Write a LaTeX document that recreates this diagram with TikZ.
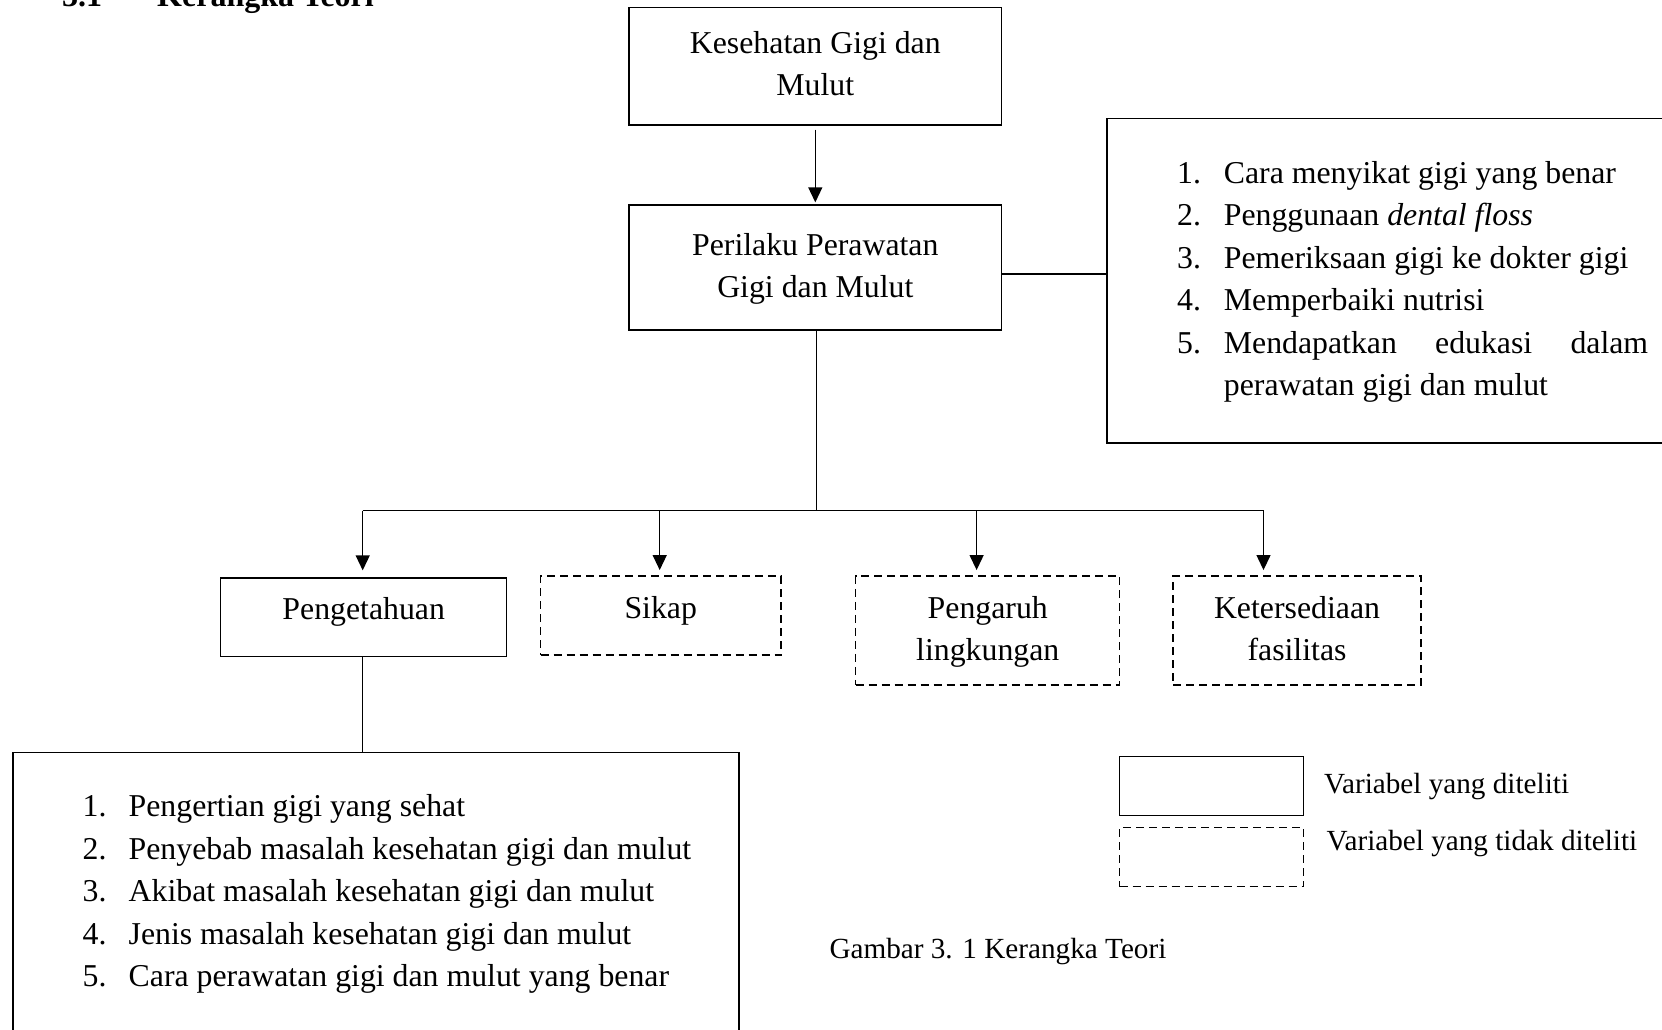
\documentclass[tikz,border=0pt]{standalone}
\usepackage{fontspec}
\setmainfont{Liberation Serif}
\usetikzlibrary{arrows.meta}
\newcommand{\fsmain}{\fontsize{31.8pt}{42.4pt}\selectfont}
\newcommand{\fssmall}{\fontsize{29.2pt}{38pt}\selectfont}
\newcommand{\fstitle}{\fontsize{32pt}{40pt}\selectfont\bfseries}
\tikzset{
  boxsolid/.style={draw, line width=1.3pt, inner sep=0pt, rectangle},
  boxdash/.style={draw, line width=1.3pt, inner sep=0pt, rectangle, dash pattern=on 8pt off 5pt},
  conn/.style={line width=1.3pt},
  arr/.style={line width=1.3pt, -{Triangle[width=14pt,length=15pt]}},
  txt/.style={font=\fsmain, inner sep=0pt, align=center, anchor=north},
  lbl/.style={font=\fssmall, inner sep=0pt, anchor=base west},
}
\begin{document}
\begin{tikzpicture}[x=1pt,y=-1pt]
\useasboundingbox (0,0) rectangle (1662,1029);
\clip (0,0) rectangle (1662,1029);
\fill[white] (0,0) rectangle (1662,1029);

% title (cut off at top)
\node[font=\fstitle, inner sep=0pt, anchor=base west] (tnum) at (62,6.5) {3.1};
\node[font=\fstitle, inner sep=0pt, anchor=base west] (ttl) at (157,6.5) {Kerangka Teori};

% boxes
\node[boxsolid, minimum width=372.7pt, minimum height=117.7pt] (b1) at (815.3,66.2) {};
\node[boxsolid, minimum width=372.7pt, minimum height=125pt] (b2) at (815.3,267.5) {};
\node[boxsolid, minimum width=580pt, minimum height=324.5pt] (rb) at (1397,280.7) {};
\node[boxsolid, minimum width=286pt, minimum height=78.7pt] (pg) at (363.7,617.35) {};
\node[boxdash, minimum width=240.5pt, minimum height=79pt] (sk) at (660.75,615.5) {};
\node[boxdash, minimum width=264.1pt, minimum height=109pt] (pl) at (987.75,630.5) {};
\node[boxdash, minimum width=248pt, minimum height=109pt] (kf) at (1297,630.5) {};
\node[boxsolid, minimum width=726pt, minimum height=300pt] (bb) at (376,902.7) {};
\node[boxsolid, minimum width=183.9pt, minimum height=59pt] (lg1) at (1211.65,786.2) {};
\node[boxdash, minimum width=183.9pt, minimum height=59.4pt] (lg2) at (1211.65,857) {};

% box texts (anchor north = first baseline - 0.7*42.4)
\node[txt] (b1t) at (815.3,23.6) {\strut Kesehatan Gigi dan\\Mulut\strut};
\node[txt] (b2t) at (815.3,225.3) {\strut Perilaku Perawatan\\Gigi dan Mulut\strut};
\node[txt] (pgt) at (363.7,589.3) {\strut Pengetahuan\strut};
\node[txt] (skt) at (660.75,588.6) {\strut Sikap\strut};
\node[txt] (plt) at (987.75,588.6) {\strut Pengaruh\\lingkungan\strut};
\node[txt] (kft) at (1297,588.6) {\strut Ketersediaan\\fasilitas\strut};

% right list
\node[font=\fsmain, inner sep=0pt, anchor=north west] (rlist) at (1177,153.6) {%
\begin{tabular}{@{}l@{}l@{}}
\makebox[46.7pt][l]{1.} & Cara menyikat gigi yang benar\\
\makebox[46.7pt][l]{2.} & Penggunaan \textit{dental floss}\\
\makebox[46.7pt][l]{3.} & Pemeriksaan gigi ke dokter gigi\\
\makebox[46.7pt][l]{4.} & Memperbaiki nutrisi\\
\makebox[46.7pt][l]{5.} & \hbox to 424.3pt{Mendapatkan\hfill edukasi\hfill dalam}\\
 & perawatan gigi dan mulut
\end{tabular}};

% bottom list
\node[font=\fsmain, inner sep=0pt, anchor=north west] (blist) at (82.4,787) {%
\begin{tabular}{@{}l@{}l@{}}
\makebox[46.1pt][l]{1.} & Pengertian gigi yang sehat\\
\makebox[46.1pt][l]{2.} & Penyebab masalah kesehatan gigi dan mulut\\
\makebox[46.1pt][l]{3.} & Akibat masalah kesehatan gigi dan mulut\\
\makebox[46.1pt][l]{4.} & Jenis masalah kesehatan gigi dan mulut\\
\makebox[46.1pt][l]{5.} & Cara perawatan gigi dan mulut yang benar
\end{tabular}};

% legend and caption
\node[lbl] (lg1t) at (1324,793.3) {Variabel yang diteliti};
\node[lbl] (lg2t) at (1326.5,850) {Variabel yang tidak diteliti};
\node[lbl] (cap) at (829.3,958.3) {Gambar 3. 1 Kerangka Teori};

% connectors
\coordinate (yr) at (0,274);
\coordinate (j) at (816.4,510.7);
\coordinate (ja) at (362.7,510.7);
\coordinate (jb) at (659.7,510.7);
\coordinate (jc) at (976.6,510.7);
\coordinate (jd) at (1263.5,510.7);

\draw[arr, shorten <=4pt, shorten >=2pt] (b1.south) -- (b2.north);
\draw[conn] (b2.east |- yr) -- (rb.west |- yr);
\draw[conn] (b2.south -| j) -- (j);
\draw[conn] (ja) -- (jd);
\draw[arr, shorten >=7pt] (ja) -- (ja |- pg.north);
\draw[arr, shorten >=5.3pt] (jb) -- (jb |- sk.north);
\draw[arr, shorten >=5.3pt] (jc) -- (jc |- pl.north);
\draw[arr, shorten >=5.3pt] (jd) -- (jd |- kf.north);
\draw[conn] (pg.south -| ja) -- (bb.north -| ja);
\end{tikzpicture}
\end{document}
